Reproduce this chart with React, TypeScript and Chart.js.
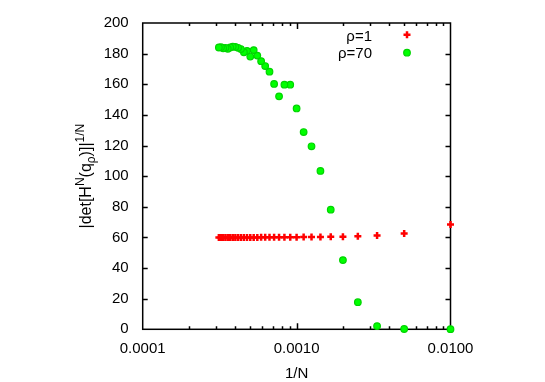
import React, { useEffect, useRef } from 'react';
import { Chart, registerables } from 'chart.js';
Chart.register(...registerables);

const nValues = [100, 200, 300, 400, 500, 600, 700, 800, 900, 1000, 1100, 1200, 1300, 1400, 1500, 1600, 1700, 1800, 1900, 2000, 2100, 2200, 2300, 2400, 2500, 2600, 2700, 2800, 2900, 3000, 3100, 3200];
const rho1Values = [68.4, 62.5, 61.3, 60.7, 60.5, 60.4, 60.3, 60.2, 60.2, 60.1, 60.1, 60.1, 60.1, 60.1, 60.1, 60.1, 60.1, 60.0, 60.0, 60.0, 60.0, 60.0, 60.0, 60.0, 60.0, 60.0, 60.0, 60.0, 60.0, 60.0, 60.0, 60.0];
const rho70Values = [0.1, 0.2, 2.1, 17.7, 45.2, 78.1, 103.4, 119.5, 128.8, 144.2, 159.7, 159.7, 152.1, 160.2, 168.2, 171.9, 175.1, 178.7, 182.3, 178.1, 181.8, 180.9, 183.0, 183.8, 184.4, 184.6, 184.0, 183.2, 183.8, 183.5, 184.2, 184.0];
const xTickValues = [0.0001, 0.001, 0.01];
const yTickValues = [0, 20, 40, 60, 80, 100, 120, 140, 160, 180, 200];
const seriesLabels = ['ρ=1', 'ρ=70'];
const xTitle = '1/N';

const FONT = '"Liberation Sans", Arial, Helvetica, sans-serif';
const RED = '#ff0000';
const GREEN_FILL = '#00ff00';
const GREEN_BORDER = '#00d400';

function drawCross(ctx: CanvasRenderingContext2D, x: number, y: number, r: number) {
  ctx.save();
  ctx.strokeStyle = RED;
  ctx.lineWidth = 2.5;
  ctx.beginPath();
  ctx.moveTo(x - r, y); ctx.lineTo(x + r, y);
  ctx.moveTo(x, y - r); ctx.lineTo(x, y + r);
  ctx.stroke();
  ctx.restore();
}
function drawCircle(ctx: CanvasRenderingContext2D, x: number, y: number, r: number) {
  ctx.save();
  ctx.fillStyle = GREEN_FILL;
  ctx.strokeStyle = GREEN_BORDER;
  ctx.lineWidth = 1.2;
  ctx.beginPath();
  ctx.arc(x, y, r, 0, Math.PI * 2);
  ctx.fill();
  ctx.stroke();
  ctx.restore();
}

const framePlugin = {
  id: 'frame',
  beforeDatasetsDraw(chart: any) {
    const { ctx, chartArea: a, scales } = chart;
    const xs = scales.x, ys = scales.y;
    ctx.save();
    ctx.strokeStyle = '#000';
    ctx.lineWidth = 1.5;
    ctx.strokeRect(a.left, a.top, a.right - a.left, a.bottom - a.top);
    ctx.beginPath();
    for (let d = -4; d < -2; d++) {
      for (let m = 1; m <= 9; m++) {
        if (m === 1 && d === -4) continue;
        const v = m * Math.pow(10, d);
        const px = Math.round(xs.getPixelForValue(v)) + 0.5;
        const len = m === 1 ? 6 : 3;
        ctx.moveTo(px, a.bottom); ctx.lineTo(px, a.bottom - len);
        ctx.moveTo(px, a.top); ctx.lineTo(px, a.top + len);
      }
    }
    for (const v of yTickValues) {
      if (v === 0 || v === 200) continue;
      const py = Math.round(ys.getPixelForValue(v)) + 0.5;
      ctx.moveTo(a.left, py); ctx.lineTo(a.left + 5, py);
      ctx.moveTo(a.right, py); ctx.lineTo(a.right - 5, py);
    }
    ctx.lineWidth = 1.5;
    ctx.stroke();
    ctx.restore();
  },
  afterDraw(chart: any) {
    const { ctx, chartArea: a } = chart;
    ctx.save();
    ctx.font = `15px ${FONT}`;
    ctx.fillStyle = '#000';
    ctx.textAlign = 'right';
    ctx.textBaseline = 'middle';
    ctx.fillText(seriesLabels[0], 372, 37);
    ctx.fillText(seriesLabels[1], 372, 53.5);
    drawCross(ctx, 407, 34.7, 3.5);
    drawCircle(ctx, 407, 52.7, 3.3);
    ctx.textAlign = 'center';
    ctx.textBaseline = 'alphabetic';
    ctx.fillText(xTitle, (a.left + a.right) / 2, 378);
    const segs = [
      { t: '|det[H', s: 16, dy: 0 },
      { t: 'N', s: 12, dy: -7 },
      { t: '(q', s: 16, dy: 0 },
      { t: 'ρ', s: 12, dy: 4 },
      { t: ')]|', s: 16, dy: 0 },
      { t: '1/N', s: 12, dy: -7 },
    ];
    let total = 0;
    const widths = segs.map((g) => { ctx.font = `${g.s}px ${FONT}`; const w = ctx.measureText(g.t).width; total += w; return w; });
    ctx.translate(91, (a.top + a.bottom) / 2);
    ctx.rotate(-Math.PI / 2);
    ctx.textAlign = 'left';
    let x = -total / 2;
    segs.forEach((g, i) => {
      ctx.font = `${g.s}px ${FONT}`;
      ctx.fillText(g.t, x, g.dy);
      x += widths[i];
    });
    ctx.restore();
  },
};

export default function App() {
  const ref = useRef<HTMLCanvasElement>(null);
  useEffect(() => {
    document.body.style.margin = '0';
    const chart = new Chart(ref.current as HTMLCanvasElement, {
      type: 'scatter',
      data: {
        datasets: [
          {
            label: seriesLabels[0],
            data: nValues.map((n, i) => ({ x: 1 / n, y: rho1Values[i] })),
            pointStyle: 'cross',
            pointRadius: 3.5,
            pointBorderWidth: 2.5,
            borderColor: RED,
            backgroundColor: RED,
            clip: false,
            order: 2,
          },
          {
            label: seriesLabels[1],
            data: nValues.map((n, i) => ({ x: 1 / n, y: rho70Values[i] })),
            pointStyle: 'circle',
            pointRadius: 3.3,
            pointBorderWidth: 1.2,
            borderColor: GREEN_BORDER,
            backgroundColor: GREEN_FILL,
            clip: false,
            order: 1,
          },
        ],
      },
      options: {
        animation: false,
        responsive: true,
        maintainAspectRatio: false,
        layout: { padding: { left: 0, top: 21, right: 94.5, bottom: 0 } },
        plugins: { legend: { display: false }, tooltip: { enabled: false } },
        scales: {
          x: {
            type: 'logarithmic',
            min: 0.0001,
            max: 0.01,
            grid: { display: false, drawTicks: false },
            border: { display: false },
            afterBuildTicks: (s: any) => { s.ticks = xTickValues.map((v) => ({ value: v })); },
            afterFit: (s: any) => { s.height = 52.7; },
            ticks: {
              autoSkip: false,
              maxRotation: 0,
              padding: 11,
              color: '#000',
              font: { family: FONT, size: 15 },
              callback: (v: any) => Number(v).toFixed(4),
            },
          },
          y: {
            min: 0,
            max: 200,
            grid: { display: false, drawTicks: false },
            border: { display: false },
            afterBuildTicks: (s: any) => { s.ticks = yTickValues.map((v) => ({ value: v })); },
            afterFit: (s: any) => { s.width = 142.7; },
            ticks: {
              padding: 14,
              color: '#000',
              font: { family: FONT, size: 15 },
            },
          },
        },
      },
      plugins: [framePlugin],
    });
    return () => chart.destroy();
  }, []);
  return (
    <div style={{ width: 545, height: 382, position: 'relative' }}>
      <canvas ref={ref} />
    </div>
  );
}
